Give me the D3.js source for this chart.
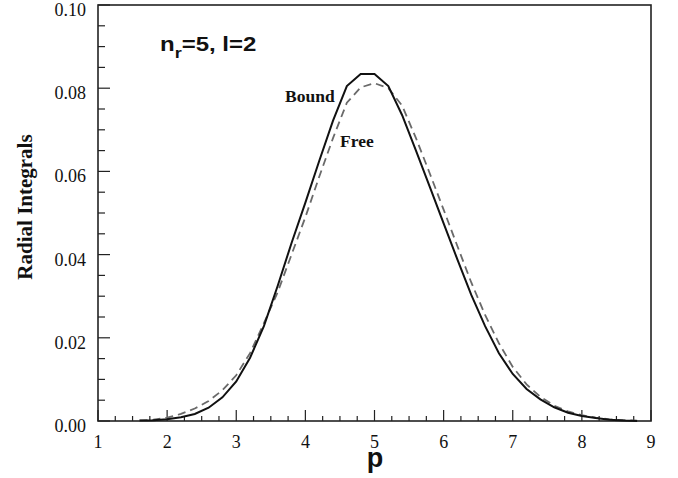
<!DOCTYPE html>
<html><head><meta charset="utf-8">
<script src="https://cdn.jsdelivr.net/npm/d3@7"></script>
<style>body{margin:0;background:#fff}svg{display:block}</style>
</head><body>
<svg id="c" width="678" height="478"></svg>
<script>
const pValues = [1.6,1.8,2.0,2.2,2.4,2.6,2.8,3.0,3.2,3.4,3.6,3.8,4.0,4.2,4.4,4.6,4.8,5.0,5.2,5.4,5.6,5.8,6.0,6.2,6.4,6.6,6.8,7.0,7.2,7.4,7.6,7.8,8.0,8.2,8.4,8.6,8.8];
const boundValues = [0.0001,0.0002,0.0004,0.0009,0.0017,0.0032,0.0057,0.0095,0.0152,0.0228,0.0325,0.0428,0.0525,0.0625,0.0722,0.0805,0.0834,0.0834,0.0805,0.0735,0.0650,0.0563,0.0475,0.0388,0.0303,0.0228,0.0163,0.0113,0.0077,0.0052,0.0033,0.0020,0.0012,0.0007,0.0003,0.0001,0.0000];
const freeValues  = [0.0001,0.0003,0.0008,0.0017,0.0030,0.0048,0.0074,0.0110,0.0163,0.0235,0.0310,0.0400,0.0490,0.0587,0.0680,0.0765,0.0802,0.0812,0.0800,0.0758,0.0680,0.0595,0.0508,0.0420,0.0333,0.0255,0.0187,0.0130,0.0088,0.0058,0.0037,0.0023,0.0014,0.0008,0.0004,0.0002,0.0001];
const xTickLabels = [1,2,3,4,5,6,7,8,9];
const yTickLabels = ["0.00","0.02","0.04","0.06","0.08","0.10"];

const svg = d3.select("#c");
const L = 98, R = 651, T = 5, B = 421;
const x = d3.scaleLinear().domain([1,9]).range([L,R]);
const y = d3.scaleLinear().domain([0,0.1]).range([B,T]);
const serif = "'Liberation Serif','Times New Roman',serif";
const sans = "'Liberation Sans',Arial,sans-serif";

// minor and major ticks (inside)
const xMinor = d3.range(1,9.001,0.25);
const yMinor = d3.range(0,0.1001,0.005);
svg.append("g").selectAll("line").data(xMinor).join("line")
  .attr("x1",d=>x(d)).attr("x2",d=>x(d)).attr("y1",B).attr("y2",d=>Math.abs(d-Math.round(d))<1e-6?B-11:B-5)
  .attr("stroke","#222").attr("stroke-width",1.2);
svg.append("g").selectAll("line").data(yMinor).join("line")
  .attr("y1",d=>y(d)).attr("y2",d=>y(d)).attr("x1",L).attr("x2",d=>Math.abs(d/0.02-Math.round(d/0.02))<1e-6?L+12:L+7)
  .attr("stroke","#222").attr("stroke-width",1.2);

// frame
svg.append("rect").attr("x",L).attr("y",T).attr("width",R-L).attr("height",B-T)
  .attr("fill","none").attr("stroke","#222").attr("stroke-width",1.6);

// tick labels
svg.append("g").selectAll("text").data(xTickLabels).join("text")
  .attr("x",d=>x(d)).attr("y",448).attr("text-anchor","middle")
  .attr("font-family",serif).attr("font-size",18).attr("fill","#111").text(d=>d);
svg.append("g").selectAll("text").data(yTickLabels).join("text")
  .attr("x",86).attr("y",d=>y(+d)+11).attr("text-anchor","end")
  .attr("font-family",serif).attr("font-size",18).attr("fill","#111").text(d=>d);

// curves
const line = d3.line().x(d=>x(d[0])).y(d=>y(d[1]));
svg.append("path").datum(pValues.map((p,i)=>[p,freeValues[i]]))
  .attr("d",line).attr("fill","none").attr("stroke","#6a6a6a").attr("stroke-width",1.8)
  .attr("stroke-dasharray","8,5");
svg.append("path").datum(pValues.map((p,i)=>[p,boundValues[i]]))
  .attr("d",line).attr("fill","none").attr("stroke","#111").attr("stroke-width",2);

// labels
svg.append("text").attr("x",285).attr("y",102).attr("font-family",serif).attr("font-weight","bold")
  .attr("font-size",17.5).attr("fill","#111").text("Bound");
svg.append("text").attr("x",340).attr("y",147).attr("font-family",serif).attr("font-weight","bold")
  .attr("font-size",17.5).attr("fill","#111").text("Free");

const t = svg.append("text").attr("transform","translate(160,51) scale(1.2,1)")
  .attr("font-family",sans).attr("font-weight","bold")
  .attr("font-size",20).attr("fill","#111");
t.append("tspan").text("n");
t.append("tspan").attr("font-size",15).attr("dy",7).text("r");
t.append("tspan").attr("dy",-7).text("=5, l=2");

svg.append("text").attr("transform","translate(32,207) rotate(-90)").attr("text-anchor","middle")
  .attr("font-family",serif).attr("font-weight","bold").attr("font-size",21).attr("fill","#111")
  .text("Radial Integrals");
svg.append("text").attr("x",375).attr("y",467).attr("text-anchor","middle")
  .attr("font-family",sans).attr("font-weight","bold").attr("font-size",27).attr("fill","#111").text("p");
</script>
</body></html>
